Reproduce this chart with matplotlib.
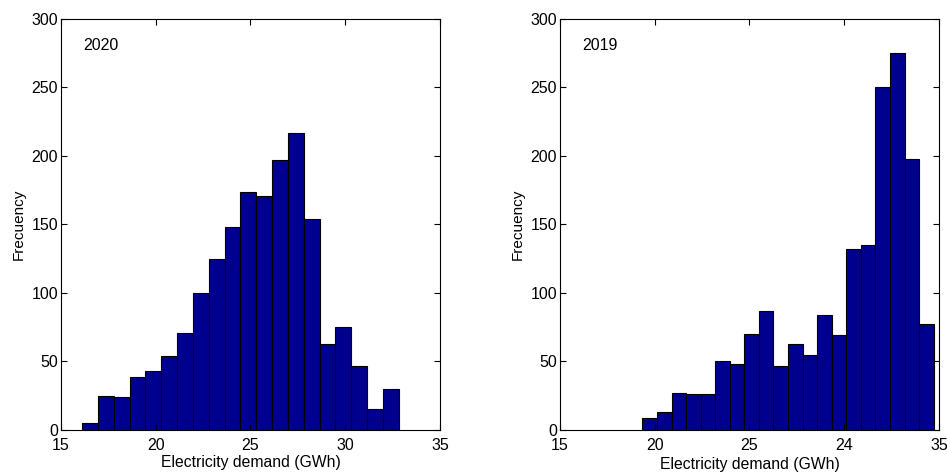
import numpy as np
import matplotlib
matplotlib.use("Agg")
import matplotlib.pyplot as plt

plt.rcParams['font.family'] = ['Liberation Sans', 'DejaVu Sans']

# 2020 histogram (20 bins)
edges_2020_start = 16.11
edges_2020_end = 32.82
counts_2020 = [5, 25, 24, 39, 43, 54, 71, 100, 125, 148,
               174, 171, 197, 217, 154, 63, 75, 47, 15, 30]

# 2019 histogram (20 bins)
edges_2019_start = 19.35
edges_2019_end = 34.72
counts_2019 = [9, 13, 27, 26, 26, 50, 48, 70, 87, 47,
               63, 55, 84, 69, 132, 135, 250, 275, 198, 77]

xticks = [15, 20, 25, 30, 35]
xticklabels_2020 = ['15', '20', '25', '30', '35']
xticklabels_2019 = ['15', '20', '25', '24', '35']
yticks = [0, 50, 100, 150, 200, 250, 300]

bar_color = '#00008F'

fig = plt.figure(figsize=(9.47, 4.72), dpi=100)
ax1 = fig.add_axes([0.0644, 0.089, 0.4002, 0.8708])
ax2 = fig.add_axes([0.5913, 0.089, 0.4002, 0.8708])


def draw_hist(ax, start, end, counts, ticklabels, tag):
    edges = np.linspace(start, end, len(counts) + 1)
    ax.bar(edges[:-1], counts, width=np.diff(edges), align='edge',
           color=bar_color, edgecolor='black', linewidth=0.8)
    ax.set_xlim(15, 35)
    ax.set_ylim(0, 300)
    ax.set_xticks(xticks)
    ax.set_xticklabels(ticklabels)
    ax.set_yticks(yticks)
    ax.tick_params(direction='in', top=True, right=True, length=4,
                   labelsize=11.5)
    ax.tick_params(axis='y', pad=2)
    ax.tick_params(axis='x', pad=6)
    ax.set_ylabel("Frecuency", fontsize=11, labelpad=4)
    ax.text(0.06, 0.925, tag, transform=ax.transAxes, fontsize=11.5)
    for s in ax.spines.values():
        s.set_linewidth(0.8)


draw_hist(ax1, edges_2020_start, edges_2020_end, counts_2020, xticklabels_2020, "2020")
ax1.set_xlabel("Electricity demand (GWh)", fontsize=11.3, labelpad=1.5)

draw_hist(ax2, edges_2019_start, edges_2019_end, counts_2019, xticklabels_2019, "2019")
ax2.set_xlabel("Electricity demand (GWh)", fontsize=11.3, labelpad=3)

fig.savefig("out.png", dpi=100)
